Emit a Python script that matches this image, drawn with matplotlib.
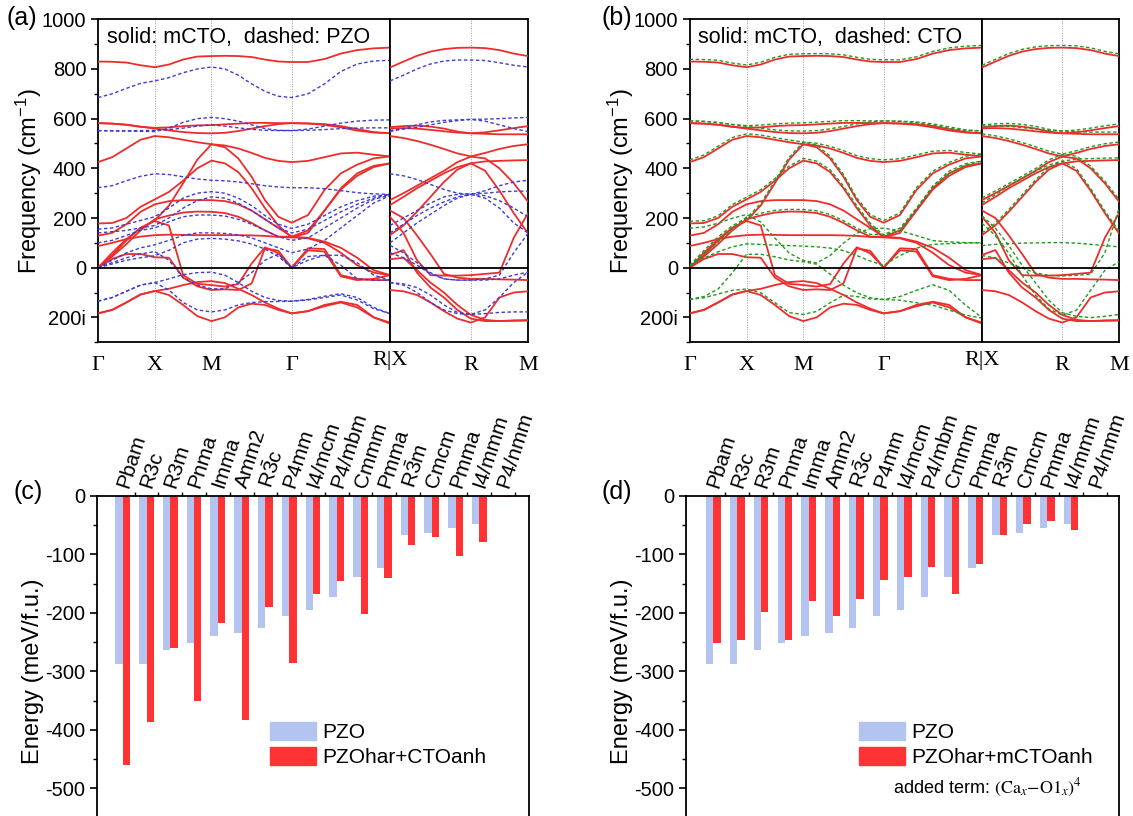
import numpy as np
import matplotlib.pyplot as plt
import matplotlib.transforms as mtransforms
from matplotlib.patches import Patch
from matplotlib.ticker import MultipleLocator

plt.rcParams['font.family'] = ['Liberation Sans', 'DejaVu Sans']
plt.rcParams['axes.unicode_minus'] = False
plt.rcParams['mathtext.fontset'] = 'custom'
plt.rcParams['mathtext.rm'] = 'Liberation Sans'
plt.rcParams['mathtext.it'] = 'Liberation Sans:italic'

# =========================
# K-PATH  (Γ-X-M-Γ-R | X-R-M)
# =========================
k_left = [0, 0.125, 0.25, 0.375, 0.5, 0.625, 0.75, 0.875, 1.0,
          1.118, 1.236, 1.354, 1.471, 1.589, 1.707,
          1.851, 1.996, 2.140, 2.284, 2.429, 2.573]
k_right = [2.573, 2.691, 2.809, 2.927, 3.045, 3.162, 3.280,
           3.405, 3.530, 3.655, 3.780]
sym_left = [0, 0.5, 1.0, 1.707]
sym_left_labels = ["Γ", "X", "M", "Γ"]
sym_right = [3.280, 3.780]
sym_right_labels = ["R", "M"]

# =========================
# mCTO (solid red), cm-1, imaginary as negative
# =========================
r1 = [830, 829, 826, 815, 807, 818, 838, 850, 852, 853, 852, 848, 838, 830, 828, 828, 840, 862, 876, 883, 886]
r2 = [582, 580, 575, 567, 563, 565, 570, 573, 574, 577, 580, 583, 583, 582, 582, 581, 578, 570, 558, 546, 541]
r3 = [582, 580, 576, 568, 560, 553, 546, 542, 541, 543, 550, 560, 570, 578, 582, 580, 575, 565, 552, 544, 541]
r4 = [425, 445, 480, 515, 530, 525, 515, 505, 497, 492, 480, 462, 442, 430, 425, 430, 445, 460, 463, 455, 448]
rA = [0, 60, 115, 160, 190, 250, 340, 435, 497, 485, 440, 366, 272, 205, 181, 212, 313, 380, 415, 440, 448]
rB = [178, 180, 200, 245, 275, 305, 350, 400, 431, 420, 385, 320, 240, 170, 122, 140, 230, 320, 380, 410, 420]
rC = [129, 140, 175, 225, 255, 268, 272, 272, 272, 268, 255, 230, 195, 160, 125, 120, 105, 80, 40, -10, -30]
rD = [0, 45, 95, 150, 195, 210, 222, 226, 225, 220, 205, 180, 150, 125, 125, 150, 230, 315, 370, 405, 420]
rE = [87, 100, 115, 125, 131, 133, 132, 131, 131, 131, 131, 130, 128, 124, 122, 118, 100, 60, 10, -20, -30]
rF = [0, 35, 55, 55, 42, 40, -40, -75, -90, -87, -90, -63, 78, 68, 0, 78, 75, -30, -45, -50, -50]
rG = [0, 50, 110, 160, 188, 170, -30, -65, -70, -76, -66, 17, 82, 58, 0, 70, 65, -35, -50, -45, -30]
rH = [-184, -170, -140, -108, -94, -110, -150, -195, -215, -200, -160, -145, -150, -170, -184, -175, -150, -137, -150, -200, -225]
rI = [-184, -170, -140, -108, -94, -85, -70, -58, -54, -62, -85, -110, -140, -165, -184, -175, -155, -140, -160, -200, -221]

q1 = [806, 830, 853, 870, 880, 885, 886, 884, 876, 862, 852]
q2 = [566, 570, 572, 568, 560, 548, 541, 545, 553, 562, 570]
q3 = [561, 562, 560, 555, 549, 544, 541, 539, 537, 537, 537]
q4 = [530, 522, 510, 495, 478, 460, 448, 462, 478, 490, 497]
qA = [272, 300, 330, 360, 390, 425, 447, 440, 400, 340, 266]
qB = [252, 285, 320, 350, 380, 405, 420, 428, 430, 432, 433]
qC = [131, 170, 225, 285, 345, 395, 420, 390, 310, 220, 138]
qD = [205, 140, 30, -30, -32, -32, -30, -25, -20, 120, 219]
qE = [51, 71, -20, -80, -120, -170, -205, -215, -215, -212, -211]
qF = [-90, -95, -110, -140, -175, -205, -221, -200, -120, -100, -95]
qG = [230, 200, 130, 55, -25, -40, -45, -45, -47, -48, -50]
qH = [34, 40, -10, -60, -100, -150, -190, -210, -215, -214, -213]

mcto_left = [r1, r2, r3, r4, rA, rB, rC, rD, rE, rF, rG, rH, rI]
mcto_right = [q1, q2, q3, q4, qA, qB, qC, qD, qE, qF, qG, qH]

# =========================
# PZO (dashed blue)
# =========================
b1 = [685, 700, 722, 742, 752, 765, 785, 800, 808, 800, 775, 740, 710, 690, 685, 700, 740, 790, 820, 832, 835]
b2 = [552, 551, 550, 549, 548, 562, 585, 600, 605, 600, 590, 575, 560, 553, 552, 558, 570, 582, 590, 594, 595]
b3 = [552, 551, 551, 552, 553, 556, 562, 570, 575, 570, 563, 557, 553, 552, 552, 553, 556, 560, 562, 563, 563]
b4 = [322, 330, 350, 368, 378, 375, 366, 357, 352, 350, 345, 338, 330, 325, 322, 322, 318, 310, 302, 297, 295]
b5 = [155, 160, 175, 190, 205, 240, 280, 300, 306, 300, 280, 250, 210, 175, 158, 175, 210, 245, 270, 288, 295]
b6 = [140, 145, 150, 160, 170, 200, 240, 270, 285, 280, 260, 230, 195, 160, 140, 155, 190, 225, 255, 280, 295]
b7 = [100, 110, 130, 150, 160, 185, 205, 212, 212, 208, 195, 175, 150, 125, 110, 120, 160, 200, 240, 275, 292]
b8 = [0, 30, 60, 80, 92, 110, 130, 140, 140, 138, 132, 120, 100, 80, 60, 75, 110, 160, 210, 260, 290]
b9 = [0, 15, 30, 40, 48, 70, 100, 115, 118, 115, 108, 95, 75, 45, 0, 30, 50, 50, 20, -30, -50]
b10 = [-135, -120, -95, -70, -60, -45, -28, -20, -18, -30, -60, -95, -120, -132, -135, -130, -120, -110, -130, -165, -185]
b11 = [-135, -120, -95, -70, -60, -90, -140, -170, -178, -170, -150, -140, -137, -136, -135, -128, -115, -105, -120, -160, -185]
b12 = [0, 20, 40, 55, 65, 30, -40, -70, -85, -85, -60, -20, 30, 55, 0, 45, 50, 10, -45, -50, -50]

bR1 = [752, 775, 800, 820, 832, 836, 836, 834, 825, 815, 808]
bR2 = [548, 560, 575, 587, 593, 595, 597, 598, 600, 603, 605]
bR3 = [553, 558, 565, 575, 585, 592, 597, 590, 575, 560, 548]
bR4 = [378, 370, 355, 335, 315, 300, 295, 310, 330, 345, 352]
bR5 = [170, 200, 230, 260, 285, 295, 297, 300, 305, 308, 308]
bR6 = [140, 175, 210, 240, 265, 285, 295, 290, 270, 240, 205]
bR7 = [100, 140, 180, 215, 250, 280, 295, 280, 240, 180, 140]
bR8 = [60, 40, 10, -25, -45, -50, -50, -50, -45, -30, -18]
bR9 = [-60, -70, -100, -140, -170, -185, -188, -185, -180, -178, -178]
bR10 = [-60, -65, -80, -110, -150, -180, -188, -170, -120, -60, -18]
bR11 = [90, 60, 20, -20, -45, -50, -50, -45, -30, 60, 138]

pzo_left = [b1, b2, b3, b4, b5, b6, b7, b8, b9, b10, b11, b12]
pzo_right = [bR1, bR2, bR3, bR4, bR5, bR6, bR7, bR8, bR9, bR10, bR11]

# =========================
# CTO (dashed green): upper bands lie on the mCTO ones, lower bands differ
# =========================
g1 = [-137, -125, -95, -30, 45, 45, 35, 22, 15, 5, -35, -80, -110, -130, -137, -125, -100, -78, -100, -160, -210]
g2 = [0, 30, 55, 75, 87, 85, 82, 80, 78, 75, 70, 60, 40, 18, 0, 40, 70, 85, 88, 90, 92]
g3 = [-137, -130, -115, -100, -95, -110, -150, -190, -197, -185, -150, -120, -125, -135, -137, -140, -150, -160, -180, -200, -212]
g4 = [150, 155, 170, 190, 205, 175, 110, 50, 20, 10, 40, 90, 130, 148, 150, 140, 120, 100, 95, 92, 90]

gR1 = [80, 85, 88, 90, 91, 92, 92, 90, 85, 80, 75]
gR2 = [200, 150, 80, 0, -70, -140, -190, -205, -210, -205, -197]
gR3 = [170, 120, 50, -40, -120, -175, -200, -180, -100, -20, 15]
gR4 = [40, 30, 10, -10, -30, -40, -42, -40, -35, 50, 230]

cto_left = [r1, r2, r3, r4, rA, rB, rD, g1, g2, g3, g4]
cto_right = [q1, q2, q3, q4, qA, qB, qC, gR1, gR2, gR3, gR4]

# =========================
# ENERGIES (meV/f.u.)
# =========================
phases = ["Pbam", "R3c", "R3m", "Pnma", "Imma", "Amm2", r"R$\bar{\mathrm{3}}$c", "P4mm", "I4/mcm",
          "P4/mbm", "Cmmm", "Pmma", r"R$\bar{\mathrm{3}}$m", "Cmcm", "Pmma", "I4/mmm", "P4/nmm"]
e_pzo = [-287, -287, -263, -252, -240, -235, -225, -205, -195, -172, -139, -123, -66, -63, -55, -48, -1]
e_cto_anh = [-460, -387, -260, -350, -217, -383, -189, -286, -167, -146, -202, -141, -83, -70, -102, -79, -2]
e_mcto_anh = [-251, -247, -199, -247, -180, -206, -176, -144, -139, -122, -167, -116, -67, -48, -43, -59, 0]

RED = "#EE2C2C"
BLUE = "#3C3CD6"
GREEN = "#1E9A1E"
BAR_BLUE = "#B4C4F0"
BAR_RED = "#FF3333"

W, H = 1133, 816
fig = plt.figure(figsize=(W / 100, H / 100), dpi=100)


def px_axes(x0, x1, y0, y1):
    return fig.add_axes([x0 / W, 1 - y1 / H, (x1 - x0) / W, (y1 - y0) / H])


def dispersion(x0, xb, x1, dash_left, dash_right, dash_color, note, tag, lift=0.0):
    axL = px_axes(x0, xb, 19.3, 342.2)
    axR = px_axes(xb, x1, 19.3, 342.2)
    for ax in (axL, axR):
        ax.set_ylim(-300, 1000)
        ax.axhline(0, color="black", lw=1.3, zorder=5)
        for s in ax.spines.values():
            s.set_linewidth(1.3)
    axL.set_xlim(k_left[0], k_left[-1])
    axR.set_xlim(k_right[0], k_right[-1])
    for k in sym_left[1:]:
        axL.axvline(k, color="#999999", lw=0.7, ls=(0, (1, 1.5)), zorder=0)
    axR.axvline(sym_right[0], color="#999999", lw=0.7, ls=(0, (1, 1.5)), zorder=0)

    for b in mcto_left:
        axL.plot(k_left, b, color=RED, lw=1.3, zorder=3)
    for b in mcto_right:
        axR.plot(k_right, b, color=RED, lw=1.3, zorder=3)

    off = mtransforms.ScaledTranslation(0, lift / 72, fig.dpi_scale_trans)
    for b in dash_left:
        axL.plot(k_left, b, color=dash_color, lw=1.0, ls=(0, (2.5, 1.8)), zorder=4,
                 transform=axL.transData + off)
    for b in dash_right:
        axR.plot(k_right, b, color=dash_color, lw=1.0, ls=(0, (2.5, 1.8)), zorder=4,
                 transform=axR.transData + off)

    axL.set_yticks([-200, 0, 200, 400, 600, 800, 1000])
    axL.set_yticklabels(["200i", "0", "200", "400", "600", "800", "1000"])
    axL.yaxis.set_minor_locator(MultipleLocator(100))
    axL.tick_params(axis="y", which="major", labelsize=14.5, length=5, width=1.2)
    axL.tick_params(axis="y", which="minor", length=3, width=1.0)
    axL.set_ylabel("Frequency (cm$^{\\mathregular{-1}}$)", fontsize=17, labelpad=-2)
    axR.set_yticks([])

    axL.set_xticks(sym_left)
    axL.set_xticklabels(sym_left_labels, family="Liberation Serif", fontsize=16)
    axR.set_xticks(sym_right)
    axR.set_xticklabels(sym_right_labels, family="Liberation Serif", fontsize=16)
    for ax in (axL, axR):
        ax.tick_params(axis="x", length=0, pad=10)
    fig.text(xb / W, 1 - 360 / H, "R|X", family="Liberation Serif", fontsize=16,
             ha="center", va="center")

    axL.text(0.03, 0.945, note, transform=axL.transAxes, fontsize=15.5, va="center")
    fig.text(tag[1] / W, 1 - 18 / H, tag[0], fontsize=18, ha="center", va="center")


dispersion(98, 390, 528, pzo_left, pzo_right, BLUE,
           "solid: mCTO,  dashed: PZO", ("(a)", 22))
dispersion(689.7, 982, 1119, cto_left, cto_right, GREEN,
           "solid: mCTO,  dashed: CTO", ("(b)", 617), lift=1.6)


def energy(x0, x1, xlim, red_vals, red_label, tag):
    ax = px_axes(x0, x1, 496, 846.8)
    x = np.arange(len(phases))
    ax.bar(x - 0.155, e_pzo, 0.31, color=BAR_BLUE, label="PZO")
    ax.bar(x + 0.155, red_vals, 0.31, color=BAR_RED, label=red_label)
    ax.set_xlim(*xlim)
    ax.set_ylim(-600, 0)
    for s in ax.spines.values():
        s.set_linewidth(1.3)
    ax.set_yticks([0, -100, -200, -300, -400, -500])
    ax.yaxis.set_minor_locator(MultipleLocator(50))
    ax.tick_params(axis="y", which="major", labelsize=14.5, length=5, width=1.2)
    ax.tick_params(axis="y", which="minor", length=3, width=1.0)
    ax.set_ylabel("Energy (meV/f.u.)", fontsize=17, labelpad=1)

    ax.xaxis.tick_top()
    ax.set_xticks(x)
    ax.set_xticklabels(phases, fontsize=15, rotation=72, ha="left",
                       rotation_mode="anchor", va="center")
    ax.set_xticks(x + 0.5, minor=True)
    ax.tick_params(axis="x", which="major", length=0, pad=6)
    ax.tick_params(axis="x", which="minor", length=3, width=1.0, direction="out")

    ax.legend(handles=[Patch(color=BAR_BLUE, label="PZO"), Patch(color=BAR_RED, label=red_label)],
              loc="upper left", bbox_to_anchor=(0.40, 0.355), frameon=False, fontsize=15,
              handlelength=2.2, handleheight=0.9, handletextpad=0.3, labelspacing=0.25,
              borderaxespad=0, borderpad=0)
    fig.text(tag[1] / W, 1 - 492 / H, tag[0], fontsize=18, ha="center", va="center")
    return ax


energy(97.3, 528.6, (-1.07, 17.07), e_cto_anh, "PZOhar+CTOanh", ("(c)", 28))
axd = energy(686, 1119.2, (-1.15, 17.02), e_mcto_anh, "PZOhar+mCTOanh", ("(d)", 617))
axd.text(892.6 / W, 1 - 788 / H, r"added term: $(\mathrm{Ca}_x\mathrm{-O1}_x)^4$",
         transform=fig.transFigure, fontsize=13, va="center", math_fontfamily="stix")

fig.savefig("out.png", dpi=100)
